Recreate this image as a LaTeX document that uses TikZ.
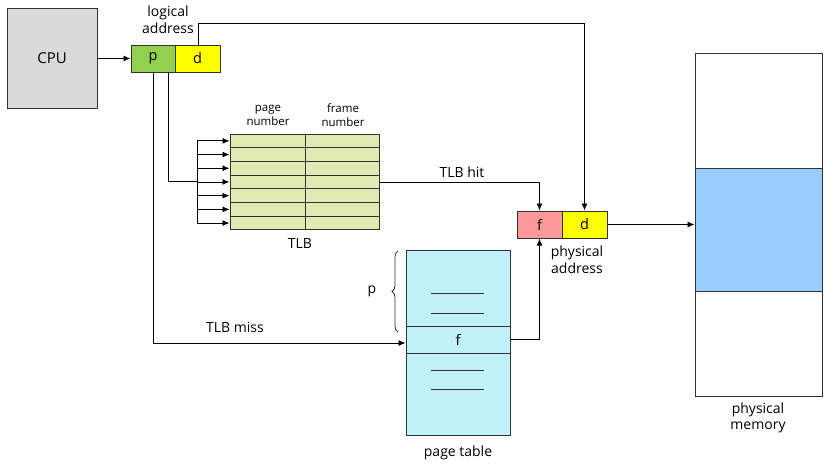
\documentclass[tikz,border=0pt]{standalone}
\usepackage{fontspec}
\setmainfont{Open Sans}
\usetikzlibrary{arrows.meta,decorations.pathreplacing}
\definecolor{cpugray}{RGB}{217,217,217}
\definecolor{pgreen}{RGB}{146,208,80}
\definecolor{dyellow}{RGB}{255,255,0}
\definecolor{tlbfill}{RGB}{228,232,178}
\definecolor{ptfill}{RGB}{192,240,250}
\definecolor{fpink}{RGB}{255,153,153}
\definecolor{memblue}{RGB}{153,204,255}
\definecolor{edge}{RGB}{50,50,50}
\tikzset{
  box/.style={draw=edge, line width=1pt, inner sep=0pt, anchor=center},
  conn/.style={draw=black, line width=0.9pt},
  arr/.style={conn, -{Latex[length=7pt,width=6pt]}},
  lbl/.style={font=\fontsize{14}{15.5}\selectfont, inner sep=0pt, align=center},
  small/.style={font=\fontsize{11.5}{14}\selectfont, inner sep=0pt, align=center},
}
\begin{document}
\begin{tikzpicture}[x=1pt,y=-1pt]
\useasboundingbox (0,0) rectangle (826,469);
% CPU
\node[box, fill=cpugray, minimum width=90pt, minimum height=100pt, font=\fontsize{15}{16}\selectfont] (cpu) at (52,58) {CPU};
% logical address
\node[box, fill=pgreen, minimum width=44pt, minimum height=27pt, font=\fontsize{14.5}{15}\selectfont] (p) at (153,58.5) {p};
\node[box, fill=dyellow, minimum width=45pt, minimum height=27pt, font=\fontsize{14.5}{15}\selectfont] (d) at (197.5,58.5) {d};
\node[lbl] (la) at (168,19.5) {logical\\[1pt]address};
\draw[arr] (cpu.east |- p.west) -- (p.west);
% TLB
\foreach \i in {1,...,7}{
  \node[box, fill=tlbfill, minimum width=75pt, minimum height=13.7pt] (tl\i) at (267.5,{134+13.7*(\i-0.5)}) {};
  \node[box, fill=tlbfill, minimum width=74pt, minimum height=13.7pt] (tr\i) at (342,{134+13.7*(\i-0.5)}) {};
}
\node[small] (pn) at (268,115) {page\\number};
\node[small] (fn) at (343,115) {frame\\number};
\node[lbl] (tlbl) at (300,243) {TLB};
\coordinate (bustop) at (197,141);
\coordinate (busbot) at (197,223);
\draw[conn] (bustop) -- (busbot);
\foreach \i in {1,...,7}{
  \draw[arr] (bustop |- tl\i.west) -- (tl\i.west);
}
\coordinate (pin) at (168,72);
\draw[conn] (pin) -- (168 ,181) -- (197,181);
% physical address
\node[box, fill=fpink, minimum width=45pt, minimum height=27pt, font=\fontsize{14.5}{15}\selectfont] (pf) at (539.5,224.5) {f};
\node[box, fill=dyellow, minimum width=45pt, minimum height=27pt, font=\fontsize{14.5}{15}\selectfont] (pd) at (584.5,224.5) {d};
\node[lbl] (pa) at (577,259.5) {physical\\[1pt]address};
% TLB hit
\draw[arr] (tr4.east) -- (pf.north |- tr4.east) -- (pf.north);
\node[lbl] (hit) at (462,172) {TLB hit};
% d to physical d
\coordinate (dtop) at (198,45);
\draw[arr] (dtop) -- (198,23) -- (pd.north |- 0,23) -- (pd.north);
% page table
\node[box, fill=ptfill, minimum width=104pt, minimum height=185pt] (pt) at (458,342.5) {};
\node[box, fill=ptfill, minimum width=104pt, minimum height=27pt, font=\fontsize{14.5}{15}\selectfont] (ptf) at (458,339.5) {f};
\foreach \yy in {293,313,370,389}{
  \draw[edge, line width=0.9pt] (431,\yy) -- (484,\yy);
}
\draw[edge, line width=0.8pt, decorate, decoration={brace, amplitude=6pt}] (398,332) -- (398,251);
\node[lbl] (plbl) at (372,291) {p};
\node[lbl] (ptl) at (458,453) {page table};
% TLB miss
\coordinate (pbot) at (153,72);
\draw[arr] (pbot) -- (153,343) -- (ptf.west |- 0,343);
\node[lbl] (miss) at (235,327) {TLB miss};
% page table to f
\draw[arr] (ptf.east) -- (pf.south |- ptf.east) -- (pf.south);
% physical memory
\node[box, fill=white, minimum width=127pt, minimum height=343pt] (mem) at (758.5,224.5) {};
\node[box, fill=memblue, minimum width=127pt, minimum height=123pt] (frame) at (758.5,229.5) {};
\node[lbl] (ml) at (758,418) {physical\\[1pt]memory};
\draw[arr] (pd.east) -- (pd.east -| mem.west);
\end{tikzpicture}
\end{document}
